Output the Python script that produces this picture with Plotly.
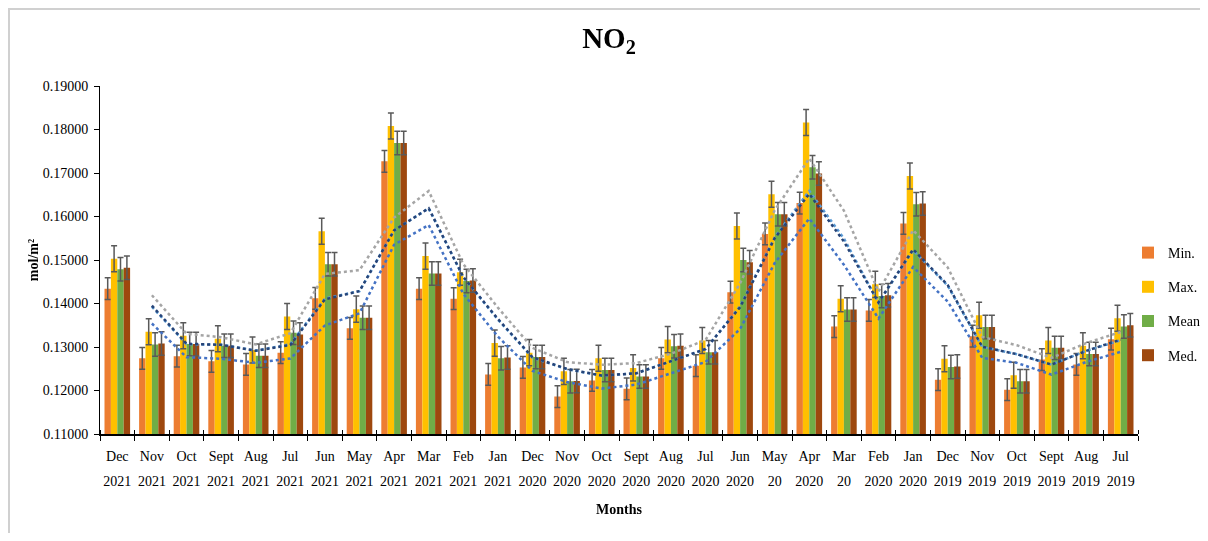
import numpy as np
import plotly.graph_objects as go

month_names = ["Dec", "Nov", "Oct", "Sept", "Aug", "Jul", "Jun", "May", "Apr", "Mar", "Feb", "Jan",
               "Dec", "Nov", "Oct", "Sept", "Aug", "Jul", "Jun", "May", "Apr", "Mar", "Feb", "Jan",
               "Dec", "Nov", "Oct", "Sept", "Aug", "Jul"]
years = ["2021", "2021", "2021", "2021", "2021", "2021", "2021", "2021", "2021", "2021", "2021", "2021",
         "2020", "2020", "2020", "2020", "2020", "2020", "2020", "20", "2020", "20", "2020", "2020",
         "2019", "2019", "2019", "2019", "2019", "2019"]

min_vals = [0.1434, 0.1274, 0.1279, 0.1267, 0.1260, 0.1287, 0.1412, 0.1343, 0.1727, 0.1434,
            0.1411, 0.1237, 0.1253, 0.1186, 0.1223, 0.1204, 0.1274, 0.1257, 0.1426, 0.1560,
            0.1631, 0.1347, 0.1384, 0.1584, 0.1225, 0.1325, 0.1202, 0.1271, 0.1260, 0.1318]
max_vals = [0.1503, 0.1335, 0.1326, 0.1319, 0.1293, 0.1370, 0.1566, 0.1387, 0.1808, 0.1509,
            0.1472, 0.1309, 0.1287, 0.1244, 0.1274, 0.1252, 0.1317, 0.1315, 0.1578, 0.1651,
            0.1816, 0.1411, 0.1444, 0.1693, 0.1273, 0.1373, 0.1235, 0.1315, 0.1303, 0.1366]
mean_vals = [0.1479, 0.1306, 0.1307, 0.1303, 0.1280, 0.1333, 0.1490, 0.1367, 0.1769, 0.1469,
             0.1452, 0.1274, 0.1277, 0.1221, 0.1247, 0.1232, 0.1302, 0.1288, 0.1500, 0.1605,
             0.1713, 0.1386, 0.1417, 0.1628, 0.1254, 0.1346, 0.1221, 0.1298, 0.1284, 0.1347]
med_vals = [0.1482, 0.1308, 0.1307, 0.1303, 0.1280, 0.1329, 0.1490, 0.1367, 0.1769, 0.1469,
            0.1453, 0.1276, 0.1277, 0.1222, 0.1247, 0.1232, 0.1303, 0.1288, 0.1495, 0.1605,
            0.1699, 0.1386, 0.1419, 0.1630, 0.1255, 0.1346, 0.1221, 0.1298, 0.1284, 0.1350]

err_min = 0.0025
err_max = 0.0030
err_mean = 0.0027
err_med = 0.0027

series = [
    ("Min.", min_vals, err_min, "#ED7D31", "#4472C4"),
    ("Max.", max_vals, err_max, "#FFC000", "#A5A5A5"),
    ("Mean", mean_vals, err_mean, "#70AD47", "#5B9BD5"),
    ("Med.", med_vals, err_med, "#9E480E", "#264478"),
]

FONT = "Liberation Serif, Times New Roman, serif"
n = len(month_names)
xpos = list(range(n))
bounds = [i - 0.5 for i in range(n + 1)]

fig = go.Figure()
for i, (name, vals, err, col, _) in enumerate(series):
    fig.add_trace(go.Bar(
        x=xpos, y=vals, name=name, legendgroup=f"g{i}",
        marker=dict(color=col, line=dict(width=0)),
        error_y=dict(type="constant", value=err, color="#595959", thickness=1.5, width=3),
    ))

# 2-period moving average trendlines
for i, (name, vals, err, col, tcol) in enumerate(series):
    v = np.array(vals)
    ma = (v[:-1] + v[1:]) / 2
    fig.add_trace(go.Scatter(
        x=xpos[1:], y=ma, mode="lines", showlegend=False, hoverinfo="skip",
        line=dict(color=tcol, width=2.5, dash="dot"),
    ))

# invisible carrier so the year-label axis is drawn
fig.add_trace(go.Scatter(x=xpos, y=mean_vals, xaxis="x2", mode="markers", opacity=0,
                         showlegend=False, hoverinfo="skip", marker=dict(size=1)))

# the page body adds an 8px offset; keep the page at 1208x541 without scrollbars
W, H = 1192, 525
L, R, T, B = 92, 62, 78, 99
pw, ph = W - L - R, H - T - B


def px(x):
    return (x - L) / pw


def py(y):
    return (H - B - y) / ph


fig.update_layout(
    width=W, height=H,
    margin=dict(l=L, r=R, t=T, b=B, autoexpand=False),
    paper_bgcolor="white", plot_bgcolor="white",
    barmode="group", bargap=0.26, bargroupgap=0,
    font=dict(family=FONT, size=14, color="black"),
    title=dict(text="<b>NO<sub>2</sub></b>", x=601 / W, xanchor="center", y=1 - 30 / H, yanchor="middle",
               font=dict(family=FONT, size=29, color="black")),
    legend=dict(x=px(1120), y=py(296), xanchor="left", yanchor="middle", traceorder="grouped",
                tracegroupgap=13, font=dict(family=FONT, size=14), itemwidth=30,
                bgcolor="rgba(0,0,0,0)"),
    showlegend=True,
    shapes=[
        dict(type="line", xref="paper", yref="paper", x0=px(0), x1=px(W), y0=py(1), y1=py(1),
             line=dict(color="#D0D0D0", width=2)),
        dict(type="line", xref="paper", yref="paper", x0=px(1), x1=px(1), y0=py(0), y1=py(H),
             line=dict(color="#D0D0D0", width=2)),
    ],
    xaxis=dict(
        range=[-0.5, n - 0.5], tickmode="array", tickvals=xpos, ticktext=month_names,
        showline=True, linecolor="black", linewidth=1.5, ticks="", showgrid=False, zeroline=False,
        tickfont=dict(family=FONT, size=14), tickangle=0, automargin=False, ticklabelstandoff=8,
        minor=dict(tickmode="array", tickvals=bounds, ticks="outside", ticklen=5,
                   tickcolor="black", tickwidth=1, showgrid=False),
    ),
    xaxis2=dict(
        overlaying="x", anchor="y", side="bottom",
        range=[-0.5, n - 0.5], tickmode="array", tickvals=xpos, ticktext=years,
        showline=False, ticks="", showgrid=False, zeroline=False,
        tickfont=dict(family=FONT, size=14), tickangle=0, automargin=False, ticklabelstandoff=37,
        minor=dict(tickmode="array", tickvals=bounds, ticks="inside", ticklen=4,
                   tickcolor="black", tickwidth=1, showgrid=False),
        title=dict(text="<b>Months</b>", font=dict(family=FONT, size=14), standoff=16),
    ),
    yaxis=dict(
        range=[0.11, 0.19], dtick=0.01, tickformat=".5f",
        showline=True, linecolor="black", linewidth=1,
        ticks="outside", ticklen=5, tickcolor="black", automargin=False, ticklabelstandoff=3,
        showgrid=False, zeroline=False, tickfont=dict(family=FONT, size=14),
        title=dict(text="<b>mol/m²</b>", font=dict(family=FONT, size=14), standoff=0),
    ),
)

fig.write_html("out.html")
